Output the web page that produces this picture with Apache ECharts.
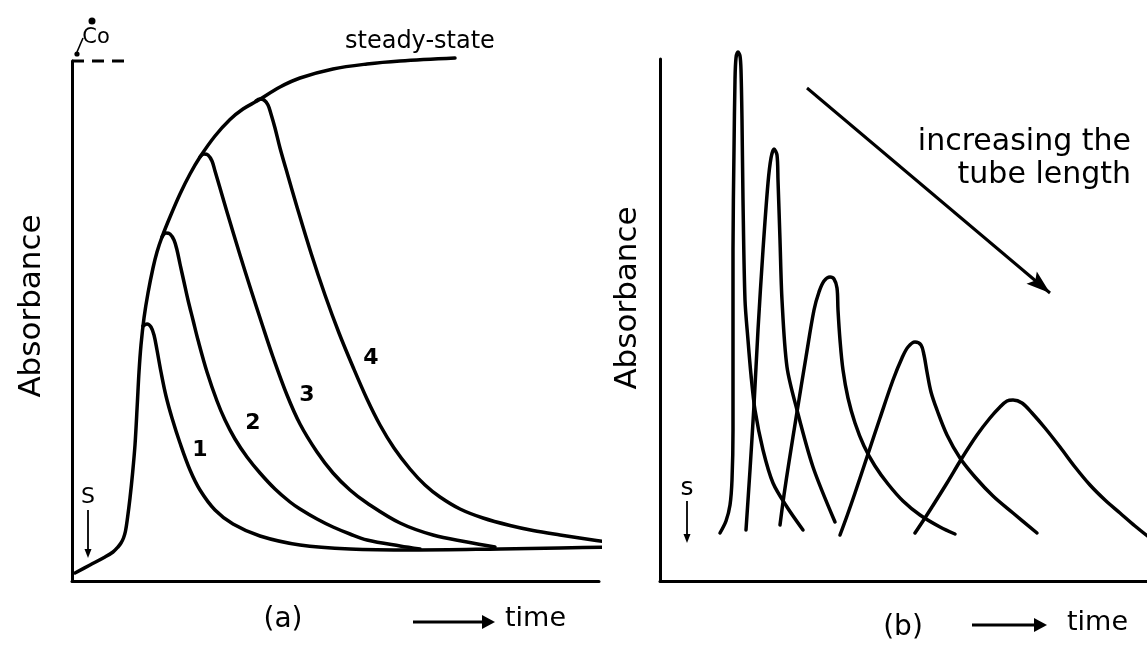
<!DOCTYPE html>
<html>
<head>
<meta charset="utf-8">
<title>Absorbance vs time</title>
<script src="https://cdn.jsdelivr.net/npm/echarts@6/dist/echarts.min.js"></script>
<style>
  html, body { margin: 0; padding: 0; background: #fff; }
  #chart { width: 1147px; height: 649px; }
</style>
</head>
<body>
<div id="chart"></div>
<script>
// ---- (a) continuous injection: steady-state envelope and four plug lengths ----
const coLevel = 104;

const steadyState = [
  [0.6, 1.6], [3.6, 3.2], [6.6, 4.8], [8.2, 5.8], [9.2, 6.8], [9.8, 7.6],
  [10.3, 8.6], [10.7, 10.0], [11.1, 12.6], [11.6, 16.6], [12.1, 21.4],
  [12.6, 27.2], [13.06, 35.4], [13.4, 41.8], [13.8, 47.2], [14.4, 52.6],
  [15.2, 57.6], [16.2, 62.6], [17.0, 65.8], [18.0, 68.8], [19.6, 72.8],
  [21.6, 77.4], [23.6, 81.4], [25.6, 84.8], [28.6, 89.0], [31.6, 92.3],
  [34.2, 94.4], [37.0, 96.0], [41.6, 98.8], [45.6, 100.6], [52.2, 102.4],
  [59.0, 103.4], [65.6, 104.0], [76.6, 104.6]
];

const curve1 = [
  [14.2, 51.0], [15.0, 51.4], [15.8, 50.8], [16.4, 49.2], [17.0, 46.2],
  [17.8, 41.8], [18.8, 37.0], [20.0, 32.6], [21.6, 27.6], [23.6, 22.2],
  [25.6, 18.2], [28.6, 14.2], [32.2, 11.4], [37.6, 9.0], [45.6, 7.2],
  [55.6, 6.4], [68.2, 6.2], [85.6, 6.4], [97.6, 6.6], [109.2, 6.8]
];

const curve2 = [
  [18.0, 68.8], [18.8, 69.6], [19.6, 69.4], [20.4, 68.2], [21.0, 66.2],
  [21.6, 63.4], [22.4, 59.8], [23.2, 56.2], [24.2, 52.2], [25.2, 48.2],
  [27.0, 41.8], [29.0, 36.0], [30.6, 32.2], [32.6, 28.4], [35.0, 24.8],
  [37.6, 21.6], [40.6, 18.4], [43.6, 15.8], [45.6, 14.4], [49.0, 12.4],
  [52.2, 10.8], [55.6, 9.4], [59.0, 8.2], [65.6, 7.0], [69.6, 6.4]
];

const curve3 = [
  [25.6, 84.8], [26.4, 85.4], [27.2, 85.2], [28.0, 84.0], [28.6, 82.0],
  [29.6, 78.6], [31.0, 73.8], [33.6, 65.2], [35.8, 58.2], [38.0, 51.4],
  [40.2, 44.8], [43.0, 37.2], [45.6, 31.4], [49.0, 25.8], [52.2, 21.6],
  [55.6, 18.2], [59.0, 15.6], [65.6, 11.6], [72.2, 9.2], [79.0, 7.8],
  [84.6, 6.8]
];

const curve4 = [
  [36.8, 96.0], [37.6, 96.4], [38.4, 96.2], [39.2, 95.2], [39.8, 93.4],
  [40.6, 90.6], [41.6, 86.6], [43.2, 81.0], [45.0, 74.8], [47.8, 65.6],
  [50.6, 57.2], [53.4, 49.6], [56.2, 42.8], [59.0, 36.4], [61.6, 31.2],
  [64.4, 26.6], [67.6, 22.4], [70.6, 19.2], [73.6, 16.8], [77.6, 14.4],
  [82.2, 12.6], [87.6, 11.1], [92.2, 10.1], [97.6, 9.2], [102.2, 8.5],
  [109.0, 7.5]
];

const coDash = [[0, coLevel], [10.6, coLevel]];

// ---- (b) single injection: peaks for increasing tube length ----
const tube1 = [
  [12.0, 9.6], [13.2, 12.0], [14.0, 15.2], [14.4, 20.2], [14.6, 30.2],
  [14.6, 46.2], [14.6, 66.2], [14.8, 86.2], [15.0, 100.2], [15.2, 104.6],
  [15.6, 105.8], [16.0, 105.0], [16.2, 102.2], [16.4, 92.2], [16.6, 76.2],
  [17.0, 56.2], [17.6, 48.2], [18.2, 41.2], [19.0, 34.2], [20.6, 26.2],
  [22.6, 19.6], [25.4, 14.8], [28.6, 10.2]
];

const tube2 = [
  [17.2, 10.2], [18.0, 22.2], [18.8, 35.2], [19.6, 50.2], [20.6, 66.2],
  [21.6, 79.6], [22.2, 84.6], [22.8, 86.4], [23.4, 85.2], [23.6, 80.2],
  [24.0, 68.2], [24.4, 56.2], [25.4, 42.8], [27.4, 34.2], [30.6, 22.8],
  [35.0, 11.8]
];

const tube3 = [
  [24.0, 11.2], [24.8, 17.2], [25.8, 23.8], [27.4, 33.8], [29.2, 44.8],
  [30.8, 54.2], [31.8, 57.8], [32.8, 60.0], [34.0, 60.8], [34.8, 60.4],
  [35.4, 58.6], [35.6, 54.2], [36.0, 48.2], [36.6, 42.2], [37.6, 36.6],
  [39.0, 31.6], [40.8, 27.0], [43.0, 23.0], [45.6, 19.4], [48.6, 16.0],
  [52.0, 13.2], [56.0, 10.8], [59.0, 9.4]
];

const tube4 = [
  [36.0, 9.2], [37.4, 13.0], [39.0, 17.6], [41.4, 24.8], [44.0, 32.6],
  [46.6, 40.2], [48.4, 44.6], [49.6, 46.8], [51.0, 47.8], [52.2, 47.2],
  [52.8, 45.2], [53.4, 41.8], [54.2, 37.8], [55.4, 34.2], [57.4, 29.2],
  [60.0, 24.6], [63.0, 20.8], [66.6, 17.0], [70.6, 13.6], [75.4, 9.6]
];

const tube5 = [
  [51.0, 9.6], [52.6, 12.0], [54.4, 14.8], [57.4, 19.6], [60.4, 24.6],
  [63.4, 29.2], [66.0, 32.6], [68.0, 34.8], [69.4, 36.0], [70.6, 36.2],
  [72.4, 35.6], [74.4, 33.6], [77.0, 30.6], [80.0, 26.8], [83.0, 22.8],
  [86.0, 19.2], [89.0, 16.2], [92.0, 13.6], [95.0, 11.0], [98.0, 8.6]
];

// direction arrow for growing tube length (tail, tip)
const lengthArrow = [[29.4, 98.6], [78.0, 57.6]];

const curveLabels = ['1', '2', '3', '4'];

// ---------------------------------------------------------------------------
const FONT = '"DejaVu Sans", sans-serif';
const INK = '#000';
const LW = 3.5;

function trace(data, axis, extra) {
  return Object.assign({
    type: 'line',
    xAxisIndex: axis,
    yAxisIndex: axis,
    data: data,
    smooth: 0.35,
    symbol: 'none',
    clip: false,
    silent: true,
    lineStyle: { color: INK, width: LW, cap: 'round', join: 'round' }
  }, extra || {});
}

function bareAxis(extra) {
  return Object.assign({
    type: 'value',
    axisLine: { show: true, onZero: false, lineStyle: { color: INK, width: 3, cap: 'round' } },
    axisTick: { show: false },
    axisLabel: { show: false },
    splitLine: { show: false }
  }, extra);
}

function txt(text, x, y, size, opts) {
  opts = opts || {};
  return {
    type: 'text',
    x: x, y: y,
    rotation: opts.rotation || 0,
    silent: true,
    style: {
      text: text,
      font: (opts.weight || 'normal') + ' ' + size + 'px ' + FONT,
      fill: INK,
      textAlign: opts.align || 'center',
      textVerticalAlign: 'middle'
    }
  };
}

function hArrow(x1, x2, y, head, half) {
  return [
    { type: 'line', silent: true, shape: { x1: x1, y1: y, x2: x2 - head + 1, y2: y },
      style: { stroke: INK, lineWidth: 3 } },
    { type: 'polygon', silent: true,
      shape: { points: [[x2 - head, y - half], [x2, y], [x2 - head, y + half]] },
      style: { fill: INK } }
  ];
}

function vArrow(x, y1, y2, head, half) {
  return [
    { type: 'line', silent: true, shape: { x1: x, y1: y1, x2: x, y2: y2 - head + 1 },
      style: { stroke: INK, lineWidth: 1.8 } },
    { type: 'polygon', silent: true,
      shape: { points: [[x - half, y2 - head], [x, y2], [x + half, y2 - head]] },
      style: { fill: INK } }
  ];
}

const chart = echarts.init(document.getElementById('chart'), null, { renderer: 'canvas' });

const graphics = [].concat(
  // panel (a) annotations
  [txt('Absorbance', 32, 306, 31, { rotation: Math.PI / 2 })],
  [txt('steady-state', 345, 42, 24, { align: 'left' })],
  [txt('Co', 96, 38, 21, { align: 'center' })],
  [{ type: 'circle', silent: true, shape: { cx: 92, cy: 21, r: 3.5 }, style: { fill: INK } }],
  [{ type: 'line', silent: true, shape: { x1: 83, y1: 38, x2: 77, y2: 52 }, style: { stroke: INK, lineWidth: 1.6 } }],
  [{ type: 'circle', silent: true, shape: { cx: 77, cy: 54, r: 2.6 }, style: { fill: INK } }],
  [txt('S', 88, 497, 22)],
  vArrow(88, 510, 558, 9, 3.5),
  [txt(curveLabels[0], 200, 450, 22, { weight: 'bold' })],
  [txt(curveLabels[1], 253, 423, 22, { weight: 'bold' })],
  [txt(curveLabels[2], 307, 395, 22, { weight: 'bold' })],
  [txt(curveLabels[3], 371, 358, 22, { weight: 'bold' })],
  [txt('(a)', 283, 620, 28)],
  hArrow(413, 495, 622, 13, 7),
  [txt('time', 505, 619, 27, { align: 'left' })],

  // panel (b) annotations
  [txt('Absorbance', 628, 298, 31, { rotation: Math.PI / 2 })],
  [txt('s', 687, 488, 25)],
  vArrow(687, 501, 543, 9, 3.5),
  [txt('increasing the', 1131, 142, 30, { align: 'right' })],
  [txt('tube length', 1131, 175, 30, { align: 'right' })],
  [txt('(b)', 903, 628, 28)],
  hArrow(972, 1047, 625, 13, 7),
  [txt('time', 1067, 623, 27, { align: 'left' })]
);

chart.setOption({
  animation: false,
  backgroundColor: '#fff',
  grid: [
    { left: 72, top: 61, width: 527, height: 520 },
    { left: 660, top: 59, width: 487, height: 522 }
  ],
  xAxis: [
    bareAxis({ gridIndex: 0, min: 0, max: 105.4 }),
    bareAxis({ gridIndex: 1, min: 0, max: 97.4 })
  ],
  yAxis: [
    bareAxis({ gridIndex: 0, min: 0, max: 104 }),
    bareAxis({ gridIndex: 1, min: 0, max: 104.4 })
  ],
  series: [
    trace(steadyState, 0),
    trace(curve1, 0),
    trace(curve2, 0),
    trace(curve3, 0),
    trace(curve4, 0),
    trace(coDash, 0, { smooth: false, lineStyle: { color: INK, width: 3, type: [12, 8] } }),
    trace(tube1, 1, { smooth: 0.3 }),
    trace(tube2, 1, { smooth: 0.3 }),
    trace(tube3, 1),
    trace(tube4, 1),
    trace(tube5, 1),
    // shaft of the direction arrow; its head is added below
    trace(lengthArrow, 1, { smooth: false, lineStyle: { color: INK, width: 3, cap: 'butt' } })
  ],
  graphic: graphics
});

// arrowhead at the tip of the direction arrow, placed through the (b) axes
(function () {
  const a = chart.convertToPixel({ gridIndex: 1 }, lengthArrow[0]);
  const b = chart.convertToPixel({ gridIndex: 1 }, lengthArrow[1]);
  const dx = b[0] - a[0], dy = b[1] - a[1];
  const len = Math.sqrt(dx * dx + dy * dy);
  const ux = dx / len, uy = dy / len;
  const head = 24, half = 8;
  const bx = b[0] - ux * head, by = b[1] - uy * head;
  const notchX = b[0] - ux * head * 0.8, notchY = b[1] - uy * head * 0.8;
  chart.setOption({
    graphic: graphics.concat([{
      type: 'polygon', silent: true,
      shape: { points: [
        [b[0], b[1]],
        [bx - uy * half, by + ux * half],
        [notchX, notchY],
        [bx + uy * half, by - ux * half]
      ] },
      style: { fill: INK }
    }])
  });
})();
</script>
</body>
</html>
